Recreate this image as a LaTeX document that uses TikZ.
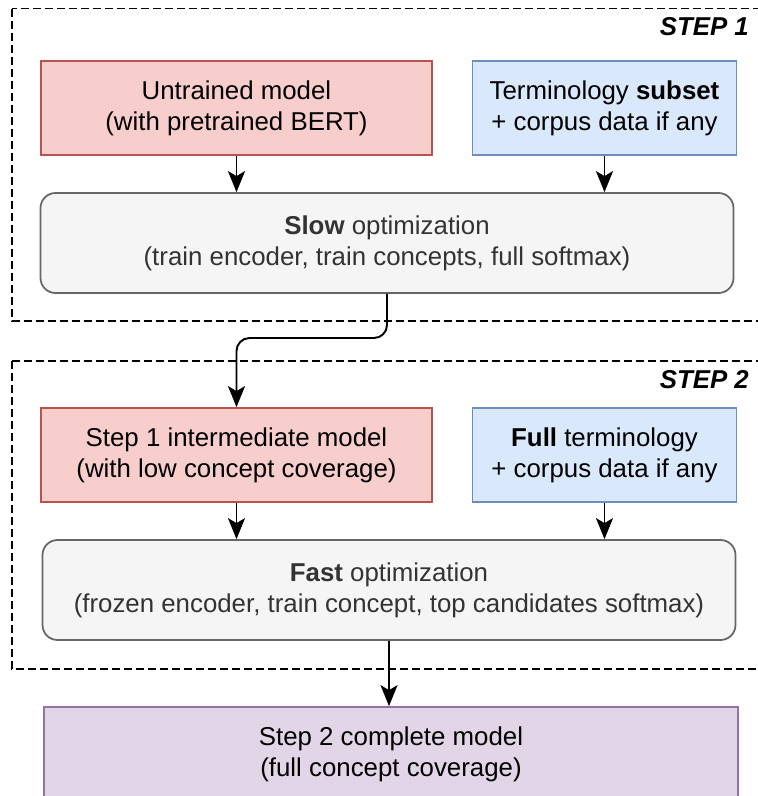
\documentclass[tikz,border=0pt]{standalone}
\usepackage{fontspec}
\setmainfont{Liberation Sans}
\usepackage{tikz}
\usetikzlibrary{positioning, calc}
\usetikzlibrary{arrows.meta}
\usepackage{xcolor}

\definecolor{pinkfill}{HTML}{F8CECC}
\definecolor{pinkline}{HTML}{B85450}
\definecolor{bluefill}{HTML}{DAE8FC}
\definecolor{blueline}{HTML}{6C8EBF}
\definecolor{greyfill}{HTML}{F5F5F5}
\definecolor{greyline}{HTML}{666666}
\definecolor{greytext}{HTML}{333333}
\definecolor{lilacfill}{HTML}{E1D5E7}
\definecolor{lilacline}{HTML}{9673A6}

\begin{document}
\begin{tikzpicture}
	[   cbox/.style={draw=#1line,fill=#1fill,line width=1pt,minimum height=1.88cm,align=center,font=\fontsize{14.7}{17.6}\selectfont},
		obox/.style={cbox=grey,rounded corners=0.3cm,minimum width=13.86cm,minimum height=2cm,text=greytext},
		frame/.style={draw=black,line width=0.9pt,dash pattern=on 0.16cm off 0.08cm},
		steplabel/.style={anchor=east,font=\fontsize{14.7}{17.6}\selectfont\bfseries\itshape},
	]
	\tikzset{normal arrow/.style={draw,line width=1.1pt,-{Stealth[length=0.42cm,width=0.34cm,inset=0.1cm]}}}
	\useasboundingbox (0,0) rectangle (15.16,-15.92);
	\clip (0,0) rectangle (15.16,-15.92);
	
	\foreach \s/\ya/\yb in {1/-0.17/-6.42, 2/-7.22/-13.38}
	{
		\draw[frame] (0.24,\ya) rectangle (15.4,\yb);
		\node[steplabel] (s-\s) at (15.1,{\ya-0.37}) {STEP \s};
	}
	
	\node[cbox=pink,minimum width=7.82cm] (m-1) at (4.73,-2.16) {Untrained model\\(with pretrained BERT)};
	\node[cbox=blue,minimum width=5.28cm] (t-1) at (12.09,-2.16) {Terminology \textbf{subset}\\+ corpus data if any};
	\node[obox] (o-1) at (7.74,-4.86) {\textbf{Slow} optimization\\(train encoder, train concepts, full softmax)};
	
	\node[cbox=pink,minimum width=7.82cm] (m-2) at (4.73,-9.10) {Step 1 intermediate model\\(with low concept coverage)};
	\node[cbox=blue,minimum width=5.28cm] (t-2) at (12.09,-9.10) {\textbf{Full} terminology\\+ corpus data if any};
	\node[obox] (o-2) at (7.78,-11.8) {\textbf{Fast} optimization\\(frozen encoder, train concept, top candidates softmax)};
	
	\node[cbox=lilac,minimum width=13.88cm] (r) at (7.82,-15.08) {Step 2 complete model\\(full concept coverage)};
	
	\foreach \s in {1,2}
	{
		\path[normal arrow] (m-\s) -- (m-\s |- o-\s.north);
		\path[normal arrow] (t-\s) -- (t-\s |- o-\s.north);
	}
	\coordinate (bend) at (7.74,-6.76);
	\path[normal arrow,rounded corners=0.26cm] (o-1) -- (bend) -| (m-2);
	\path[normal arrow] (o-2) -- (o-2 |- r.north);
\end{tikzpicture}
\end{document}
